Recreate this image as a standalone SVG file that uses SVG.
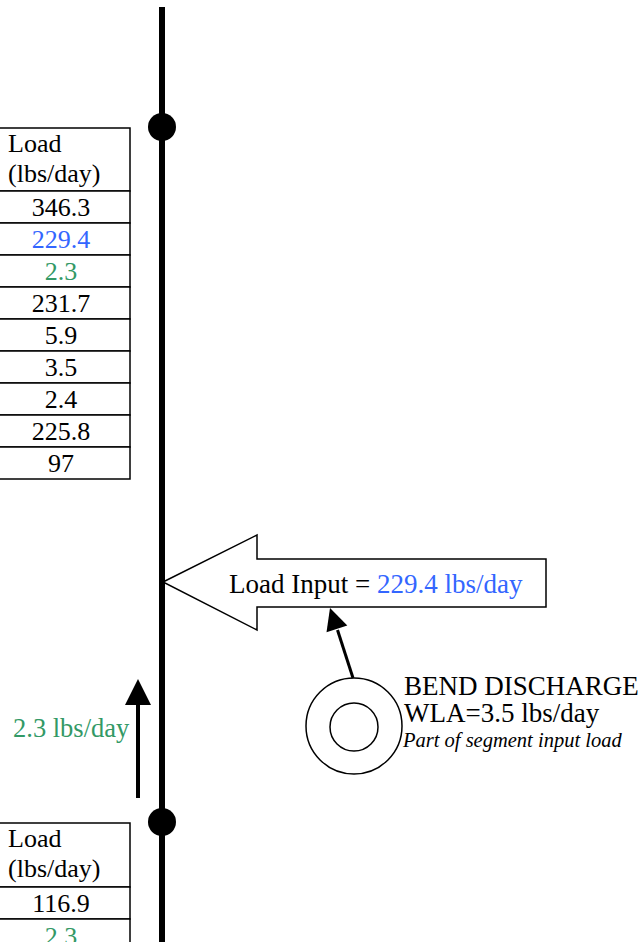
<svg xmlns="http://www.w3.org/2000/svg" width="641" height="942" viewBox="0 0 641 942">
<style>
text{font-family:"Liberation Serif","Times New Roman",serif;font-size:26px;fill:#000}
.L{font-size:27px}
.c{text-anchor:middle}
.b{fill:#3366FF}
.g{fill:#339966}
.cell{fill:#fff;stroke:#000;stroke-width:1.5}
.thin{fill:none;stroke:#000;stroke-width:1.5}
.it{font-style:italic;font-size:20.5px}
</style>
<rect width="641" height="942" fill="#fff"/>
<g id="table1">
<rect class="cell" x="-10" y="128" width="140" height="63"/>
<rect class="cell" x="-10" y="191" width="140" height="32"/>
<rect class="cell" x="-10" y="223" width="140" height="32"/>
<rect class="cell" x="-10" y="255" width="140" height="32"/>
<rect class="cell" x="-10" y="287" width="140" height="32"/>
<rect class="cell" x="-10" y="319" width="140" height="32"/>
<rect class="cell" x="-10" y="351" width="140" height="32"/>
<rect class="cell" x="-10" y="383" width="140" height="32"/>
<rect class="cell" x="-10" y="415" width="140" height="32"/>
<rect class="cell" x="-10" y="447" width="140" height="32"/>
<text x="8" y="152">Load</text>
<text x="8" y="182">(lbs/day)</text>
<text class="c" x="61" y="216">346.3</text>
<text class="c b" x="61" y="248">229.4</text>
<text class="c g" x="61" y="280">2.3</text>
<text class="c" x="61" y="312">231.7</text>
<text class="c" x="61" y="344">5.9</text>
<text class="c" x="61" y="376">3.5</text>
<text class="c" x="61" y="408">2.4</text>
<text class="c" x="61" y="440">225.8</text>
<text class="c" x="61" y="472">97</text>
</g>
<g id="table2">
<rect class="cell" x="-10" y="823" width="140" height="64"/>
<rect class="cell" x="-10" y="887" width="140" height="32"/>
<rect class="cell" x="-10" y="919" width="140" height="32"/>
<text x="8" y="847">Load</text>
<text x="8" y="877">(lbs/day)</text>
<text class="c" x="61" y="912">116.9</text>
<text class="c g" x="61" y="945">2.3</text>
</g>
<g id="load-input-arrow">
<polygon class="cell" points="163,582 257,535 257,559 546,559 546,607 257,607 257,630"/>
<text class="L" x="229" y="593">Load Input = <tspan class="b">229.4 lbs/day</tspan></text>
</g>
<g id="bend-discharge">
<circle class="thin" cx="354" cy="726" r="48"/>
<circle class="thin" cx="354" cy="727" r="24"/>
<text class="L" x="404" y="695">BEND DISCHARGE</text>
<text class="L" x="404" y="722">WLA=3.5 lbs/day</text>
<text class="it" x="403" y="747">Part of segment input load</text>
</g>
<g id="river">
<line x1="162" y1="7" x2="162" y2="942" stroke="#000" stroke-width="6"/>
<circle cx="162" cy="127" r="14" fill="#000"/>
<circle cx="162" cy="822" r="14" fill="#000"/>
</g>
<g id="upstream-flow">
<text class="g" x="13" y="737" style="font-size:26.5px">2.3 lbs/day</text>
</g>
<g id="connectors">
<line x1="138" y1="798" x2="138" y2="703" stroke="#000" stroke-width="4"/>
<polygon points="138,679 125,705 151,705" fill="#000"/>
<line x1="353" y1="678" x2="337.5" y2="630" stroke="#000" stroke-width="3"/>
<polygon points="330,608 347.3,625.5 326.5,632.3" fill="#000"/>
</g>
</svg>
